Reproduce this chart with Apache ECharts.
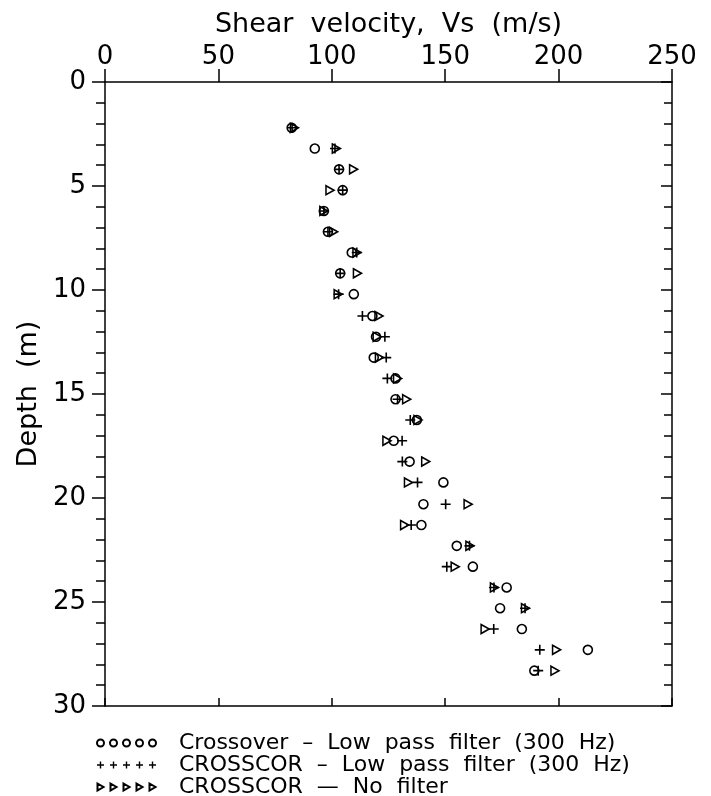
<!DOCTYPE html>
<html>
<head>
<meta charset="utf-8">
<script src="https://cdn.jsdelivr.net/npm/echarts@6/dist/echarts.min.js"></script>
<style>
html,body{margin:0;padding:0;background:#fff;}
#chart{width:711px;height:796px;}
</style>
</head>
<body>
<div id="chart"></div>
<script>
// Depth (m) of each measurement level
const depth = [2.2, 3.2, 4.2, 5.2, 6.2, 7.2, 8.2, 9.2, 10.2,
  11.25, 12.25, 13.25, 14.25, 15.25, 16.25, 17.25, 18.25, 19.25,
  20.3, 21.3, 22.3, 23.3, 24.3, 25.3, 26.3, 27.3, 28.3];
// Shear velocity Vs (m/s)
const crossoverLP = [82.3, 92.5, 103.2, 104.8, 96.5, 98.3, 108.8, 103.7, 109.7,
  117.9, 119.5, 118.5, 128.1, 128.1, 137.5, 127.3, 134.3, 149.2,
  140.4, 139.5, 155.1, 162.2, 177.1, 174.2, 183.8, 212.9, 189.3];
const crosscorLP = [82.5, 101.4, 103.2, 104.8, 96.5, 98.3, 111.0, 103.7, 103.0,
  113.5, 123.4, 124.0, 124.5, 129.0, 134.6, 131.0, 131.1, 137.8,
  150.2, 135.0, 160.7, 150.7, 171.5, 185.2, 171.4, 191.7, 191.0];
const crosscorNoFilter = [83.5, 102.0, 109.6, 99.2, 96.5, 100.8, 111.1, 111.3, 102.8,
  120.8, 120.0, 121.0, 129.0, 133.0, 138.0, 124.3, 141.4, 133.8,
  160.1, 132.1, 160.9, 154.4, 171.7, 185.4, 167.6, 199.1, 198.4];
const xTicks = [0, 50, 100, 150, 200, 250];
const yTicks = [0, 5, 10, 15, 20, 25, 30];
const seriesNames = ['Crossover  \u2013  Low  pass  filter  (300  Hz)',
  'CROSSCOR  \u2013  Low  pass  filter  (300  Hz)',
  'CROSSCOR  \u2014  No  filter'];
const xTitle = 'Shear  velocity,  Vs  (m/s)';
const yTitle = 'Depth  (m)';

const FONT = 'DejaVu Sans';
function pairs(vals){ return vals.map((v,i)=>[v, depth[i]]); }

const circleSym = 'path://M0,5a5,5 0 1,0 10,0a5,5 0 1,0 -10,0z';
const plusSym = 'path://M4.2,0h1.6v4.2h4.2v1.6h-4.2v4.2h-1.6v-4.2h-4.2v-1.6h4.2z';
const triSym = 'path://M0,0L9,5L0,10z';

function repeat(fn){ let s=''; for(let k=0;k<5;k++) s+=fn(k*13); return 'path://'+s; }
const circleIcon = repeat(o=>'M'+(o)+',3.5a3.5,3.5 0 1,0 7,0a3.5,3.5 0 1,0 -7,0z');
const plusIcon = repeat(o=>'M'+(o+2.8)+',0h1.4v2.8h2.8v1.4h-2.8v2.8h-1.4v-2.8h-2.8v-1.4h2.8z');
const triIcon = repeat(o=>'M'+(o+0.5)+',0L'+(o+6.5)+',3.5L'+(o+0.5)+',7z');

const axisLineStyle = {color:'#000', width:1.5};
const chart = echarts.init(document.getElementById('chart'));
chart.setOption({
  backgroundColor:'#fff',
  animation:false,
  grid:{left:105, right:39, top:82, bottom:90},
  legend:{
    orient:'vertical', left:96, top:732, height:90, itemGap:0, padding:0,
    itemWidth:59, itemHeight:7,
    textStyle:{fontFamily:FONT, fontSize:22, lineHeight:21, color:'#000', padding:[0,0,0,18]},
    data:[
      {name:seriesNames[0], icon:circleIcon},
      {name:seriesNames[1], icon:plusIcon},
      {name:seriesNames[2], icon:triIcon}
    ]
  },
  xAxis:[{
    type:'value', position:'top', min:xTicks[0], max:xTicks[xTicks.length-1], interval:50,
    name:xTitle, nameLocation:'middle', nameGap:44,
    nameTextStyle:{fontFamily:FONT, fontSize:27, color:'#000'},
    axisLine:{show:true, onZero:false, lineStyle:axisLineStyle},
    axisTick:{show:true, inside:false, length:13, lineStyle:axisLineStyle},
    axisLabel:{show:true, fontFamily:FONT, fontSize:26, color:'#000', margin:12},
    splitLine:{show:false}
  },{
    type:'value', position:'bottom', min:xTicks[0], max:xTicks[xTicks.length-1], interval:50,
    axisLine:{show:true, onZero:false, lineStyle:axisLineStyle},
    axisTick:{show:true, inside:true, length:8, lineStyle:axisLineStyle},
    axisLabel:{show:false}, splitLine:{show:false}
  }],
  yAxis:[{
    type:'value', position:'left', inverse:true, min:yTicks[0], max:yTicks[yTicks.length-1], interval:5,
    name:yTitle, nameLocation:'middle', nameGap:61, nameRotate:90,
    nameTextStyle:{fontFamily:FONT, fontSize:27, color:'#000'},
    axisLine:{show:true, onZero:false, lineStyle:axisLineStyle},
    axisTick:{show:true, inside:false, length:13, lineStyle:axisLineStyle},
    minorTick:{show:true, splitNumber:5, length:9, lineStyle:{color:'#000', width:1.5}},
    axisLabel:{show:true, fontFamily:FONT, fontSize:26, color:'#000', margin:19},
    splitLine:{show:false}, minorSplitLine:{show:false}
  },{
    type:'value', position:'right', inverse:true, min:yTicks[0], max:yTicks[yTicks.length-1], interval:5,
    axisLine:{show:true, onZero:false, lineStyle:axisLineStyle},
    axisTick:{show:true, inside:true, length:11, lineStyle:axisLineStyle},
    minorTick:{show:true, splitNumber:5, length:8, lineStyle:{color:'#000', width:1.5}},
    axisLabel:{show:false}, splitLine:{show:false}, minorSplitLine:{show:false}
  }],
  series:[{
    name:seriesNames[0], type:'scatter', xAxisIndex:0, yAxisIndex:0,
    symbol:circleSym, symbolSize:9,
    itemStyle:{color:'rgba(0,0,0,0)', borderColor:'#000', borderWidth:1.6, opacity:1},
    data:pairs(crossoverLP), z:3
  },{
    name:seriesNames[1], type:'scatter', xAxisIndex:0, yAxisIndex:0,
    symbol:plusSym, symbolSize:10,
    itemStyle:{color:'#000', opacity:1},
    data:pairs(crosscorLP), z:4
  },{
    name:seriesNames[2], type:'scatter', xAxisIndex:0, yAxisIndex:0,
    symbol:triSym, symbolSize:[8,9],
    itemStyle:{color:'rgba(0,0,0,0)', borderColor:'#000', borderWidth:1.6, opacity:1},
    data:pairs(crosscorNoFilter), z:5
  }]
});
</script>
</body>
</html>
